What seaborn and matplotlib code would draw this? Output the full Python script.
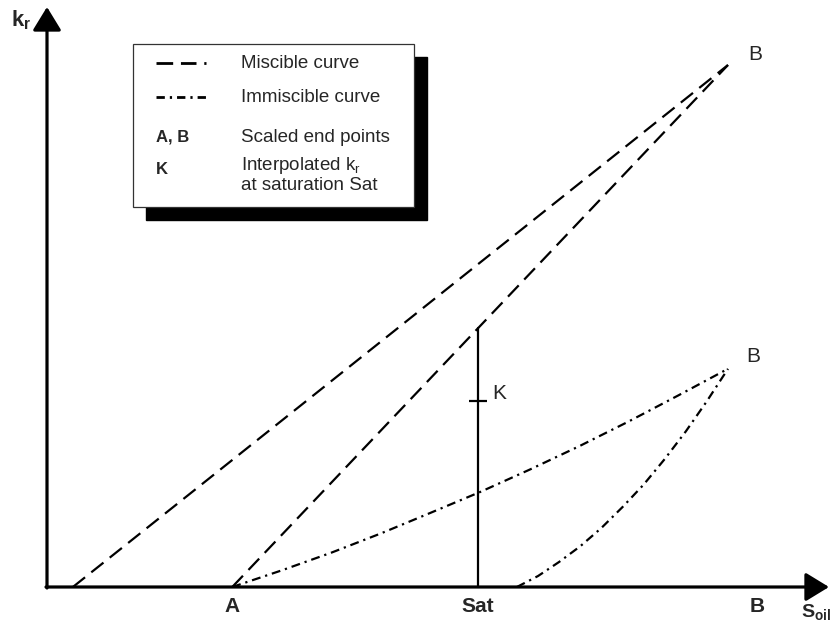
import matplotlib
matplotlib.use("Agg")
import matplotlib.pyplot as plt
from matplotlib.patches import Rectangle
import pandas as pd
import seaborn as sns

# Oil saturation (fraction of B end point) and relative permeability readings
miscible_outer_s = [0.038, 1.0]
miscible_outer_kr = [0.0, 1.0]
miscible_inner_s = [0.272, 1.0]
miscible_inner_kr = [0.0, 1.0]
immiscible_upper_s = [0.272, 0.345, 0.418, 0.491, 0.563, 0.636,
                      0.709, 0.782, 0.854, 0.927, 1.0]
immiscible_upper_kr = [0.0, 0.032, 0.066, 0.103, 0.142, 0.182,
                       0.225, 0.270, 0.317, 0.367, 0.418]
immiscible_lower_s = [0.690, 0.721, 0.752, 0.783, 0.814, 0.845,
                      0.876, 0.907, 0.938, 0.969, 1.0]
immiscible_lower_kr = [0.0, 0.021, 0.048, 0.078, 0.113, 0.153,
                       0.196, 0.245, 0.298, 0.356, 0.418]

sat_s = 0.633
sat_miscible_kr = 0.496
k_interp_kr = 0.356

axis_tick_s = [0.272, 0.633, 1.043]
axis_tick_labels = ["A", "Sat", "B"]

sns.set_style("white")
plt.rcParams["font.family"] = ["Liberation Sans", "DejaVu Sans"]
plt.rcParams["mathtext.fontset"] = "custom"
plt.rcParams["mathtext.rm"] = "Liberation Sans"
plt.rcParams["mathtext.bf"] = "Liberation Sans:bold"
plt.rcParams["mathtext.default"] = "regular"

W, H = 833, 628
fig = plt.figure(figsize=(W / 100, H / 100), dpi=100)

# data axes covering the whole canvas; origin of the plot at pixel (47, 587)
x0, y0, sx, sy = 47.0, 587.0, 681.0, 522.0
ax = fig.add_axes([0, 0, 1, 1])
ax.set_xlim(-x0 / sx, (W - x0) / sx)
ax.set_ylim(-(H - y0) / sy, y0 / sy)
ax.axis("off")

# overlay axes in pixel units for the frame arrows and the key box
deco = fig.add_axes([0, 0, 1, 1], zorder=3)
deco.set_xlim(0, W)
deco.set_ylim(H, 0)
deco.axis("off")
deco.patch.set_alpha(0)

lw = 1.6
mis_ls = (0, (7.0, 3.6))
imm_ls = (0, (4.0, 2.2, 1.0, 2.2))

curves = [
    ("miscible", miscible_outer_s, miscible_outer_kr),
    ("miscible", miscible_inner_s, miscible_inner_kr),
    ("immiscible", immiscible_upper_s, immiscible_upper_kr),
    ("immiscible", immiscible_lower_s, immiscible_lower_kr),
]
for kind, s, kr in curves:
    df = pd.DataFrame({"S": s, "kr": kr})
    sns.lineplot(data=df, x="S", y="kr", ax=ax, color="black", lw=lw,
                 linestyle=mis_ls if kind == "miscible" else imm_ls,
                 estimator=None, sort=False, legend=False)

# saturation line and interpolated point K
ax.plot([sat_s, sat_s], [0, sat_miscible_kr], color="black", lw=lw)
ax.plot([sat_s], [k_interp_kr], marker="_", ms=13, mew=lw, color="black")
ax.annotate("K", (sat_s, k_interp_kr), xytext=(14, 8), textcoords="offset pixels",
            fontsize=15, va="center", ha="left")

# end point labels
ax.annotate("B", (miscible_outer_s[-1], miscible_outer_kr[-1]), xytext=(27, 10),
            textcoords="offset pixels", fontsize=15, ha="center", va="center")
ax.annotate("B", (immiscible_lower_s[-1], immiscible_lower_kr[-1]), xytext=(25, 12),
            textcoords="offset pixels", fontsize=15, ha="center", va="center")

for s, lab in zip(axis_tick_s, axis_tick_labels):
    ax.annotate(lab, (s, 0), xytext=(0, -19), textcoords="offset pixels",
                fontsize=15, fontweight="bold", ha="center", va="center")

# coordinate arrows
arrow = dict(arrowstyle="-|>,head_length=0.9,head_width=0.55", lw=2.3,
             color="black", mutation_scale=16, shrinkA=0, shrinkB=0)
deco.annotate("", xy=(829, y0), xytext=(x0 - 1, y0), arrowprops=arrow)
deco.annotate("", xy=(x0, 7), xytext=(x0, y0 + 1), arrowprops=arrow)
deco.text(11, 20, r"$\mathbf{k_r}$", fontsize=16, ha="left", va="center")
deco.text(801, 612, r"$\mathbf{S_{oil}}$", fontsize=14, ha="left", va="center")

# key box with drop shadow
deco.add_patch(Rectangle((146, 57), 281, 163, facecolor="black", edgecolor="black", zorder=1))
deco.add_patch(Rectangle((133, 44), 281, 163, facecolor="white", edgecolor="#333333",
                         lw=0.9, zorder=2))
deco.plot([156, 207], [63, 63], color="black", lw=2.0, zorder=3,
          linestyle=(0, (6.0, 2.8, 5.6, 2.8, 0.8, 10)))
deco.plot([156, 209], [97, 97], color="black", lw=2.0, zorder=3,
          linestyle=(0, (3.0, 1.8, 0.8, 1.8)))
tkw = dict(fontsize=13.5, va="center", ha="left", zorder=4)
deco.text(241, 63, "Miscible curve", **tkw)
deco.text(241, 97, "Immiscible curve", **tkw)
deco.text(156, 137, "A, B", fontsize=12, fontweight="bold", va="center", ha="left", zorder=4)
deco.text(241, 137, "Scaled end points", **tkw)
deco.text(156, 170, "K", fontsize=12, fontweight="bold", va="center", ha="left", zorder=4)
deco.text(241, 165, "Interpolated k$_r$", **tkw)
deco.text(241, 186, "at saturation Sat", **tkw)

fig.savefig("out.png", dpi=100)
